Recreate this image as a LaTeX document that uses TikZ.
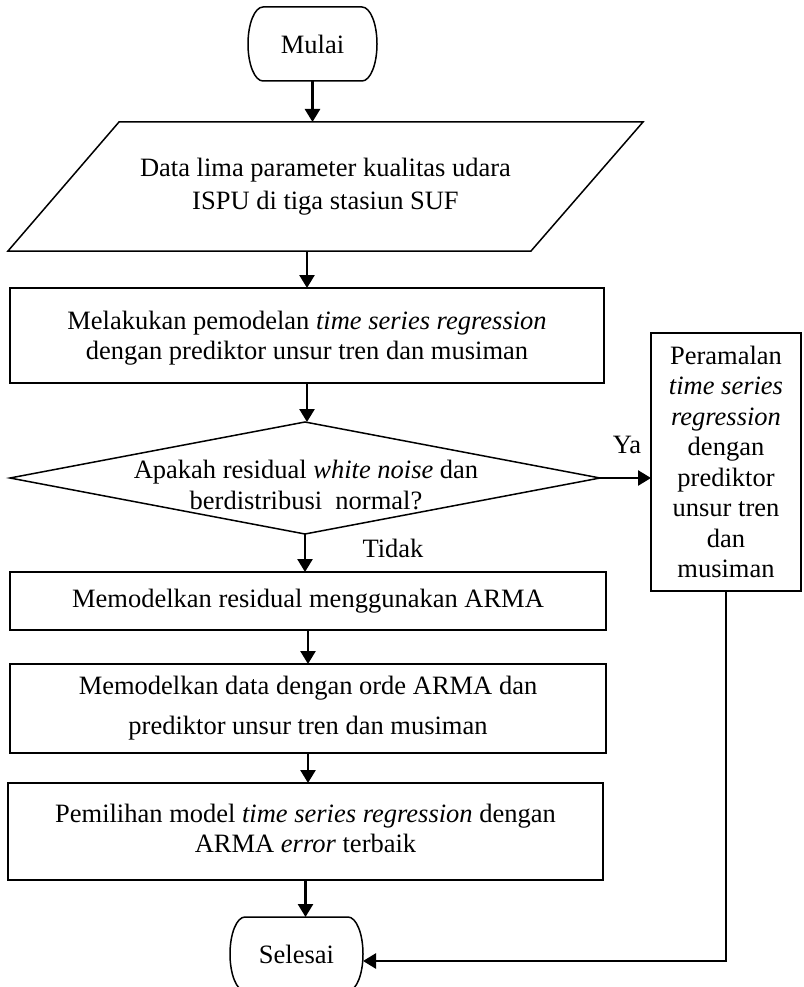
\documentclass[tikz,border=0pt]{standalone}
\usepackage{fontspec}
\setmainfont{Liberation Serif}
\usetikzlibrary{shapes.geometric, arrows.meta, calc}

% outline of a start/end terminal: straight top and bottom, half-ellipse sides
\newcommand\termoutline[1]{%
  \draw[shapeline] ([xshift=15pt]#1.north west) -- ([xshift=-15pt]#1.north east)
    arc[start angle=90, end angle=-90, x radius=15pt, y radius=37pt]
    -- ([xshift=15pt]#1.south west)
    arc[start angle=270, end angle=90, x radius=15pt, y radius=37pt] -- cycle;}

\begin{document}
\begin{tikzpicture}[x=1pt, y=-1pt,
  font=\fontsize{26.5}{30.5}\selectfont,
  shapeline/.style={draw=black, line width=1.5pt},
  procbox/.style={shapeline, rectangle, align=center, inner sep=0pt, outer sep=0pt},
  termbox/.style={inner sep=0pt, outer sep=0pt, minimum width=#1, minimum height=74pt},
  flow/.style={line width=2.6pt, -{Triangle[length=13pt, width=15pt]}},
]
\fill[white] (0,0) rectangle (803,987);
\useasboundingbox (0,0) rectangle (803,987);

% start
\node[termbox=129pt] (mulai) at (312.5,44) {Mulai};
\termoutline{mulai}

% input data (parallelogram)
\node[align=center, inner sep=0pt, outer sep=0pt, minimum width=524pt, minimum height=129pt]
  (data) at (325.5,186.5) {Data lima parameter kualitas udara\\[3pt] ISPU di tiga stasiun SUF};
\draw[shapeline] ([xshift=55.5pt]data.north west) -- ([xshift=55.5pt]data.north east)
  -- ([xshift=-56.5pt]data.south east) -- ([xshift=-55.5pt]data.south west) -- cycle;

% process steps
\node[procbox, minimum width=594pt, minimum height=95pt] (tsr) at (307,335.5)
  {\rule{0pt}{24pt}Melakukan pemodelan \textit{time series regression}\\ dengan prediktor unsur tren dan musiman};

\node[shapeline, diamond, inner sep=0pt, outer sep=0pt, minimum width=590pt, minimum height=112pt]
  (cek) at (305,478) {};
\node[align=center, inner sep=0pt] (cektext) at (306,485)
  {Apakah residual \textit{white noise} dan\\ berdistribusi\ \ normal?};

\node[procbox, minimum width=596pt, minimum height=58pt] (resid) at (308,601)
  {Memodelkan residual menggunakan ARMA};

\node[procbox, minimum width=596pt, minimum height=89pt] (orde) at (308,708.5)
  {Memodelkan data dengan orde ARMA dan\\[9.5pt] prediktor unsur tren dan musiman};

\node[procbox, minimum width=595pt, minimum height=97pt, text depth=6pt] (pilih) at (305.5,831.5)
  {Pemilihan model \textit{time series regression} dengan\\ ARMA \textit{error} terbaik};

\node[procbox, minimum width=150pt, minimum height=258pt] (ramal) at (726,462)
  {Peramalan\\ \textit{time series}\\ \textit{regression}\\ dengan\\ prediktor\\ unsur tren\\ dan\\ musiman};

% end
\node[termbox=133pt] (selesai) at (296.5,954) {Selesai};
\termoutline{selesai}

% branch labels
\node[anchor=base, inner sep=0pt] (ya) at (627,453) {Ya};
\node[anchor=base, inner sep=0pt] (tidak) at (393,557) {Tidak};

% connectors
\draw[flow] (mulai.south) -- (mulai.south |- data.north);
\draw[flow] (tsr.north |- data.south) -- (tsr.north);
\draw[flow] (tsr.south) -- (tsr.south |- cek.north);
\draw[flow] (cek.south) -- (cek.south |- resid.north);
\draw[flow] (resid.south) -- (resid.south |- orde.north);
\draw[flow] (orde.south) -- (orde.south |- pilih.north);
\draw[flow] (pilih.south) -- (pilih.south |- selesai.north);
\draw[flow] (cek.east) -- (cek.east -| ramal.west);
\coordinate (belok) at (726,961);
\draw[line width=2pt] (ramal.south) -- (belok);
\draw[flow] ([xshift=1pt]belok) -- (belok -| selesai.east);
\end{tikzpicture}
\end{document}
